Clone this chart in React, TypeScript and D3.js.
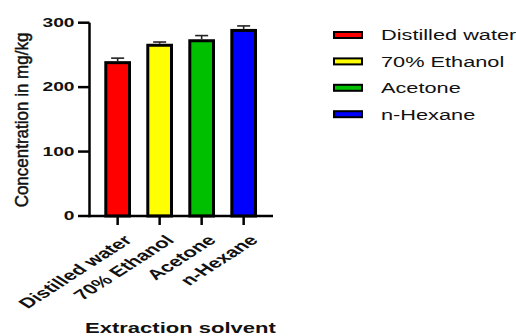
import React from "react";
import * as d3 from "d3";

// Solvent categories and their measured concentration (mg/kg)
const solvents = ["Distilled water", "70% Ethanol", "Acetone", "n-Hexane"];
const means = [238, 265, 272, 288];
const errors = [7, 5, 8, 7];
const barColors = ["#ff0000", "#ffff00", "#00bf00", "#0000ff"];
const yTicks = [0, 100, 200, 300];

const W = 516;
const H = 336;
const FONT = "'Liberation Sans', Arial, Helvetica, sans-serif";

export default function App() {
  const x = d3
    .scaleBand<string>()
    .domain(solvents)
    .range([89.5, 271.8])
    .paddingInner(0.436)
    .paddingOuter(0.388);
  const y = d3.scaleLinear().domain([0, 300]).range([216, 22.7]);
  const bw = x.bandwidth();

  return (
    <svg
      width={W}
      height={H}
      style={{ position: "absolute", left: 0, top: 0, background: "#fff" }}
      fontFamily={FONT}
    >
      {/* bars */}
      {solvents.map((s, i) => (
        <rect
          key={s}
          x={x(s)}
          y={y(means[i])}
          width={bw}
          height={y(0) - y(means[i])}
          fill={barColors[i]}
          stroke="#000"
          strokeWidth={3}
        />
      ))}

      {/* upper error bars */}
      {solvents.map((s, i) => {
        const cx = (x(s) as number) + bw / 2;
        const top = y(means[i] + errors[i]);
        return (
          <g key={s} stroke="#222" strokeWidth={1.6}>
            <line x1={cx} x2={cx} y1={y(means[i]) - 1.5} y2={top} />
            <line x1={cx - 6.5} x2={cx + 6.5} y1={top} y2={top} />
          </g>
        );
      })}

      {/* y axis */}
      <line x1={89.5} x2={89.5} y1={y(300)} y2={y(0) + 1.2} stroke="#000" strokeWidth={2.5} />
      {yTicks.map((t) => (
        <g key={t}>
          <line x1={78} x2={89.5} y1={y(t)} y2={y(t)} stroke="#000" strokeWidth={2.5} />
          <text
            transform={`translate(74.5,${y(t) + 4.3}) scale(1.6,1)`}
            textAnchor="end"
            fontSize={12}
            fontWeight="bold"
            fill="#111"
          >
            {t}
          </text>
        </g>
      ))}

      {/* x axis */}
      <line x1={88.3} x2={273} y1={y(0)} y2={y(0)} stroke="#000" strokeWidth={2.5} />
      {solvents.map((s) => {
        const cx = (x(s) as number) + bw / 2;
        return (
          <g key={s}>
            <line x1={cx} x2={cx} y1={y(0)} y2={y(0) + 9} stroke="#000" strokeWidth={2.5} />
            <text
              transform={`translate(${cx + 4.5},234) scale(1.55,1) rotate(-45)`}
              textAnchor="end"
              dy="0.71em"
              fontSize={14.2}
              fontWeight="bold"
              fill="#111"
            >
              {s}
            </text>
          </g>
        );
      })}

      {/* axis titles */}
      <text
        transform="translate(28,120) rotate(-90) scale(1,1.1)"
        textAnchor="middle"
        fontSize={17}
        fill="#111"
        stroke="#111"
        strokeWidth={0.45}
      >
        Concentration in mg/kg
      </text>
      <text
        transform="translate(85,333) scale(1.43,1)"
        fontSize={15.4}
        fontWeight="bold"
        fill="#111"
      >
        Extraction solvent
      </text>

      {/* legend */}
      {solvents.map((s, i) => {
        const cy = 35 + i * 26.4;
        return (
          <g key={s}>
            <rect x={334} y={cy - 3} width={28} height={6} fill={barColors[i]} stroke="#000" strokeWidth={2} />
            <text transform={`translate(381,${cy + 5.4}) scale(1.45,1)`} fontSize={15} fill="#111">
              {s}
            </text>
          </g>
        );
      })}
    </svg>
  );
}
